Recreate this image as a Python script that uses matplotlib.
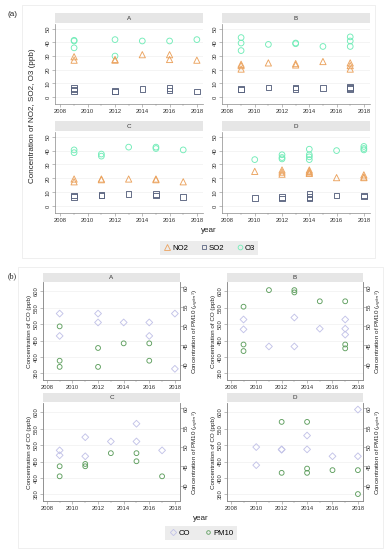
import matplotlib
matplotlib.use("Agg")
import numpy as np
from matplotlib import pyplot as plt
from matplotlib.lines import Line2D
from matplotlib.patches import Rectangle
from matplotlib.ticker import MultipleLocator

plt.rcParams['font.family'] = ['Liberation Sans', 'DejaVu Sans']

W, H = 389, 550

# ---------------- (a) NO2 / SO2 / O3 (ppb) ----------------
A_no2_yr = [2009, 2009, 2012, 2012, 2014, 2016, 2016, 2018]
A_no2 = [29.5, 27, 27.5, 27, 31, 31, 27.5, 27]
A_so2_yr = [2009, 2009, 2009, 2012, 2012, 2014, 2016, 2016, 2018]
A_so2 = [6.5, 5.5, 4.5, 4.5, 4, 6, 6.5, 5, 4]
A_o3_yr = [2009, 2009, 2009, 2012, 2012, 2014, 2016, 2018]
A_o3 = [41.5, 41, 36, 42, 30, 41, 41, 42]

B_no2_yr = [2009, 2009, 2009, 2011, 2013, 2013, 2015, 2017, 2017, 2017]
B_no2 = [24, 23, 20.5, 25, 24.5, 23.5, 26, 25, 23, 20.5]
B_so2_yr = [2009, 2009, 2011, 2013, 2013, 2015, 2017, 2017, 2017]
B_so2 = [6, 5.5, 7, 7, 6, 6.5, 7.5, 6.5, 6]
B_o3_yr = [2009, 2009, 2009, 2011, 2013, 2013, 2015, 2017, 2017, 2017]
B_o3 = [43.5, 39.5, 34, 38.5, 39.5, 39, 37, 44, 41, 37]

C_no2_yr = [2009, 2009, 2011, 2011, 2013, 2015, 2015, 2017]
C_no2 = [19.5, 17.5, 19.5, 19, 19.5, 19.5, 19, 17.5]
C_so2_yr = [2009, 2009, 2011, 2011, 2013, 2015, 2015, 2017]
C_so2 = [7.5, 6.5, 8, 7.5, 8.8, 8.5, 7.5, 6.5]
C_o3_yr = [2009, 2009, 2011, 2011, 2013, 2015, 2015, 2017]
C_o3 = [40.5, 38.5, 37.5, 36, 42.5, 42.5, 41.5, 40.5]

D_no2_yr = [2010, 2012, 2012, 2012, 2014, 2014, 2014, 2014, 2016, 2018, 2018, 2018]
D_no2 = [25, 26, 24.5, 23, 26, 25, 24, 23.5, 20.5, 22.5, 21, 20.5]
D_so2_yr = [2010, 2012, 2012, 2014, 2014, 2014, 2016, 2018, 2018]
D_so2 = [6, 6.5, 5.5, 8.5, 6.5, 5.5, 7.5, 7.5, 7]
D_o3_yr = [2010, 2012, 2012, 2012, 2014, 2014, 2014, 2014, 2016, 2018, 2018, 2018]
D_o3 = [33.5, 37, 35, 34, 41, 37, 35.5, 33.5, 40, 43, 41.5, 40.5]

# ---------------- (b) CO (ppb) / PM10 (ug/m3) ----------------
bA_co_yr = [2009, 2009, 2012, 2012, 2014, 2016, 2016, 2018, 2018]
bA_co = [532, 464, 532, 505, 505, 505, 464, 532, 364]
bA_pm_yr = [2009, 2009, 2009, 2012, 2012, 2014, 2016, 2016]
bA_pm = [49.9, 41.0, 39.4, 44.3, 39.4, 45.5, 45.5, 41.0]

bB_co_yr = [2009, 2009, 2011, 2013, 2013, 2015, 2017, 2017, 2017]
bB_co = [514, 484, 432, 520, 432, 486, 514, 486, 468]
bB_pm_yr = [2009, 2009, 2009, 2011, 2013, 2013, 2015, 2017, 2017, 2017]
bB_pm = [55.0, 45.2, 43.5, 59.3, 59.3, 58.7, 56.4, 56.4, 45.2, 44.2]

bC_co_yr = [2009, 2009, 2011, 2011, 2013, 2015, 2015, 2017]
bC_co = [484, 469, 524, 466, 511, 565, 511, 484]
bC_pm_yr = [2009, 2009, 2011, 2011, 2013, 2015, 2015, 2017]
bC_pm = [45.0, 42.4, 45.6, 45.0, 48.4, 48.4, 46.3, 42.4]

bD_co_yr = [2010, 2010, 2012, 2012, 2014, 2014, 2016, 2018, 2018]
bD_co = [494, 439, 487, 486, 529, 487, 466, 466, 608]
bD_pm_yr = [2012, 2012, 2014, 2014, 2014, 2016, 2018, 2018]
bD_pm = [56.5, 43.3, 56.5, 44.4, 43.3, 44.0, 44.0, 37.8]

years_ticks = [2008, 2010, 2012, 2014, 2016, 2018]

NO2_C = '#eba35f'
SO2_C = '#5a6480'
O3_C = '#72ecb8'
CO_C = '#c3c3e8'
PM_C = '#5f9f5f'
AX_C = '#8a8a8a'
STRIP_C = '#e6e6e6'
TICK_FS = 4.2


def px(l, t, r, b):
    return [l / W, 1 - b / H, (r - l) / W, (b - t) / H]


fig = plt.figure(figsize=(W / 100, H / 100), dpi=100)

# faint outer boxes
fig.patches.append(Rectangle((22 / W, 1 - 258 / H), 353 / W, 253 / H, transform=fig.transFigure,
                             fill=False, edgecolor='#ececec', lw=0.6))
fig.patches.append(Rectangle((18 / W, 1 - 548 / H), 365 / W, 281 / H, transform=fig.transFigure,
                             fill=False, edgecolor='#ececec', lw=0.6))


def strip(box, label):
    s = fig.add_axes(px(*box))
    s.set_facecolor(STRIP_C)
    s.set_xticks([])
    s.set_yticks([])
    for sp in s.spines.values():
        sp.set_visible(False)
    s.text(0.5, 0.5, label, ha='center', va='center', fontsize=4.5, color='#333333',
           transform=s.transAxes)


def style_x(ax):
    ax.set_xticks(years_ticks)
    ax.xaxis.set_minor_locator(MultipleLocator(1))
    ax.tick_params(axis='x', which='major', labelsize=TICK_FS, length=2, width=0.4, color=AX_C,
                   pad=1.5, labelcolor='#333333')
    ax.tick_params(axis='x', which='minor', length=1.2, width=0.3, color=AX_C)


def rot_y(ax, side='left'):
    for lab in (ax.get_yticklabels()):
        lab.set_rotation(90)
        lab.set_va('center')
        lab.set_ha('right' if side == 'left' else 'left')


panels_a = [
    ('A', (55, 24, 203, 104), (55, 13, 203, 23), A_no2_yr, A_no2, A_so2_yr, A_so2, A_o3_yr, A_o3),
    ('B', (222, 24, 370, 104), (222, 13, 370, 23), B_no2_yr, B_no2, B_so2_yr, B_so2, B_o3_yr, B_o3),
    ('C', (55, 132, 203, 213), (55, 121, 203, 131), C_no2_yr, C_no2, C_so2_yr, C_so2, C_o3_yr, C_o3),
    ('D', (222, 132, 370, 213), (222, 121, 370, 131), D_no2_yr, D_no2, D_so2_yr, D_so2, D_o3_yr, D_o3),
]

for name, box, sbox, ny, nv, sy, sv, oy, ov in panels_a:
    ax = fig.add_axes(px(*box))
    strip(sbox, name)
    ax.set_xlim(2007.6, 2018.45)
    ax.set_ylim(-5, 53.4)
    for g in range(0, 51, 10):
        ax.axhline(g, color='#ececec', lw=0.4, zorder=0)
    ax.scatter(oy, ov, marker='o', s=17, facecolors='none', edgecolors=O3_C, linewidths=0.65)
    ax.scatter(ny, nv, marker='^', s=20, facecolors='none', edgecolors=NO2_C, linewidths=0.65)
    ax.scatter(sy, sv, marker='s', s=16, facecolors='none', edgecolors=SO2_C, linewidths=0.65)
    ax.set_yticks(range(0, 51, 10))
    style_x(ax)
    ax.tick_params(axis='y', labelsize=TICK_FS, length=2, width=0.4, color=AX_C, pad=1,
                   labelcolor='#333333')
    rot_y(ax)
    for sp in ['top', 'right']:
        ax.spines[sp].set_visible(False)
    for sp in ['left', 'bottom']:
        ax.spines[sp].set_color(AX_C)
        ax.spines[sp].set_linewidth(0.5)

fig.text(8 / W, 1 - 14 / H, '(a)', fontsize=5.8, ha='left', va='center', color='#222222')
fig.text(33 / W, 1 - 116 / H, 'Concentration of NO2, SO2, O3 (ppb)', rotation=90, fontsize=5.8,
         ha='center', va='center', color='#222222')
fig.text(209 / W, 1 - 231 / H, 'year', fontsize=5.8, ha='center', va='center', color='#222222')

leg_a = [
    Line2D([], [], ls='none', marker='^', markersize=3.8, markerfacecolor='none',
           markeredgecolor=NO2_C, markeredgewidth=0.6, label='NO2'),
    Line2D([], [], ls='none', marker='s', markersize=3.4, markerfacecolor='none',
           markeredgecolor=SO2_C, markeredgewidth=0.6, label='SO2'),
    Line2D([], [], ls='none', marker='o', markersize=3.4, markerfacecolor='none',
           markeredgecolor=O3_C, markeredgewidth=0.6, label='O3'),
]
la = fig.legend(handles=leg_a, loc='center', bbox_to_anchor=(209 / W, 1 - 248 / H), ncol=3,
                fontsize=5.6, frameon=True, fancybox=False, handletextpad=0.1, columnspacing=1.5,
                handlelength=1.0, borderpad=0.45)
la.get_frame().set_facecolor('#e8e8e8')
la.get_frame().set_edgecolor('none')

# ---------------- (b) ----------------
panels_b = [
    ('A', (43, 282, 180, 380), (43, 273, 180, 282), bA_co_yr, bA_co, bA_pm_yr, bA_pm),
    ('B', (227, 282, 363, 380), (227, 273, 363, 282), bB_co_yr, bB_co, bB_pm_yr, bB_pm),
    ('C', (43, 403, 180, 501), (43, 393, 180, 402), bC_co_yr, bC_co, bC_pm_yr, bC_pm),
    ('D', (227, 403, 363, 501), (227, 393, 363, 402), bD_co_yr, bD_co, bD_pm_yr, bD_pm),
]

for name, box, sbox, cy, cv, py, pv in panels_b:
    ax = fig.add_axes(px(*box))
    strip(sbox, name)
    ax.set_xlim(2007.7, 2018.4)
    ax.set_ylim(330, 628)
    for g in range(350, 601, 50):
        ax.axhline(g, color='#ececec', lw=0.4, zorder=0)
    ax.scatter(cy, cv, marker='D', s=12, facecolors='none', edgecolors=CO_C, linewidths=0.65,
               zorder=3)
    ax.set_yticks(range(350, 601, 50))
    style_x(ax)
    ax.tick_params(axis='y', labelsize=TICK_FS, length=2, width=0.4, color=AX_C, pad=1,
                   labelcolor='#333333')
    rot_y(ax)
    ax.set_ylabel('Concentration of CO (ppb)', fontsize=4.5, labelpad=1.5, color='#222222')

    ax2 = ax.twinx()
    ax2.set_ylim(36, 61.4)
    ax2.scatter(py, pv, marker='o', s=12, facecolors='none', edgecolors=PM_C, linewidths=0.65,
                zorder=3)
    ax2.set_yticks([40, 45, 50, 55, 60])
    ax2.tick_params(axis='y', labelsize=TICK_FS, length=2, width=0.4, color=AX_C, pad=1,
                    labelcolor='#333333')
    rot_y(ax2, side='right')
    ax2.set_ylabel('Concentration of PM10 ($_{\\mu g/m^3}$)', fontsize=4.5, labelpad=1.5,
                   color='#222222')
    for a in (ax, ax2):
        a.spines['top'].set_visible(False)
        for sp in ['left', 'bottom', 'right']:
            a.spines[sp].set_color(AX_C)
            a.spines[sp].set_linewidth(0.5)

fig.text(8 / W, 1 - 276 / H, '(b)', fontsize=5.8, ha='left', va='center', color='#222222',
         family='Liberation Serif')
fig.text(201 / W, 1 - 519 / H, 'year', fontsize=5.8, ha='center', va='center', color='#222222')

leg_b = [
    Line2D([], [], ls='none', marker='D', markersize=3.2, markerfacecolor='none',
           markeredgecolor=CO_C, markeredgewidth=0.6, label='CO'),
    Line2D([], [], ls='none', marker='o', markersize=2.6, markerfacecolor='none',
           markeredgecolor=PM_C, markeredgewidth=0.6, label='PM10'),
]
lb = fig.legend(handles=leg_b, loc='center', bbox_to_anchor=(201 / W, 1 - 533 / H), ncol=2,
                fontsize=5.6, frameon=True, fancybox=False, handletextpad=0.2, columnspacing=1.8,
                handlelength=1.0, borderpad=0.45)
lb.get_frame().set_facecolor('#e8e8e8')
lb.get_frame().set_edgecolor('none')

fig.savefig('out.png', dpi=100)
